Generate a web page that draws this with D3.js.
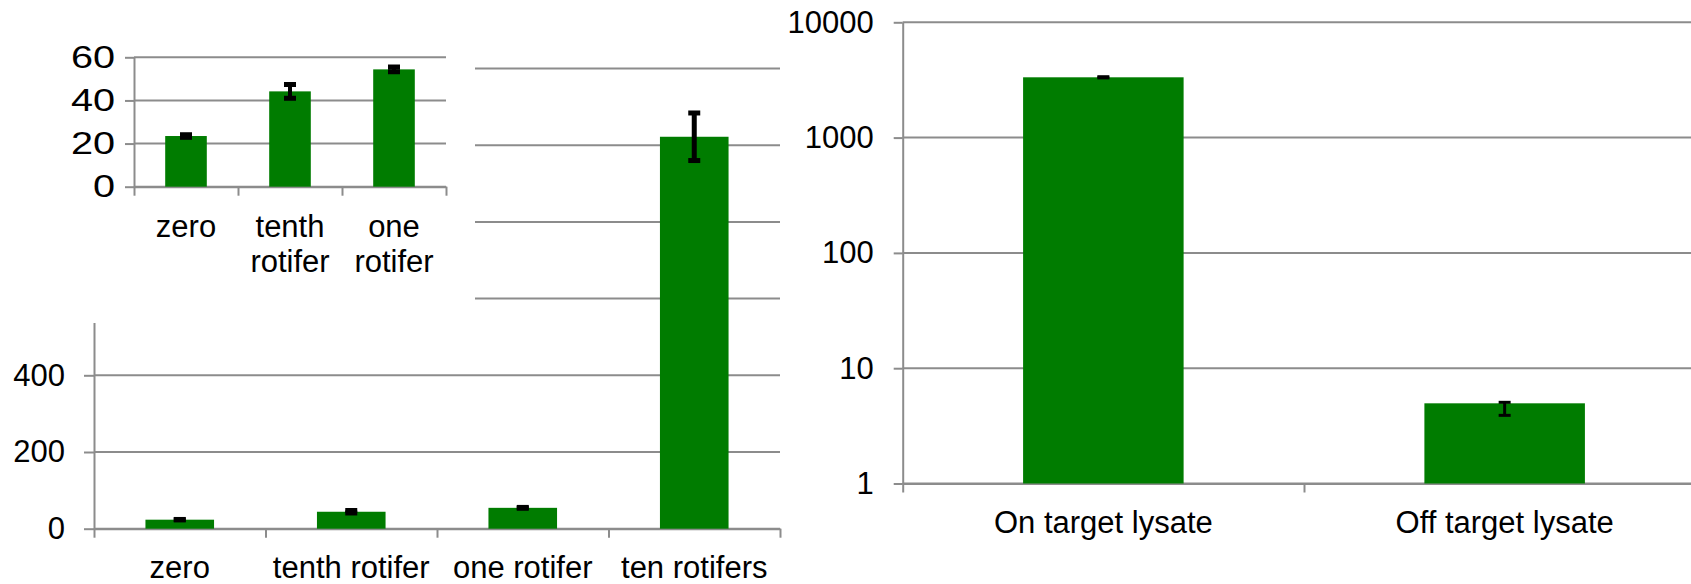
<!DOCTYPE html>
<html>
<head>
<meta charset="utf-8">
<script src="https://cdn.jsdelivr.net/npm/d3@7"></script>
<style>
  body { margin: 0; background: #fff; }
  text { font-family: "Liberation Sans", Arial, sans-serif; }
</style>
</head>
<body>
<div id="chart"></div>
<script>
// rotifer series (shared by the big chart and the zoomed inset)
const rotCats = ["zero", "tenth rotifer", "one rotifer", "ten rotifers"];
const rotMeans = [23.5, 44.2, 54.4, 1022];
const rotErr = [0.6, 3.2, 1.1, 62];
const insetCount = 3;
const bigTicks = [0, 200, 400, 600, 800, 1000, 1200];
const insetTicks = [0, 20, 40, 60];

// lysate series (log scale)
const lysCats = ["On target lysate", "Off target lysate"];
const lysMeans = [3334, 4.96];
const lysErrPlus = [40, 0.1];
const lysErrMinus = [40, 1.06];
const logTicks = [1, 10, 100, 1000, 10000];

const W = 1691, H = 584;
const green = "#007c00", gridCol = "#8c8c8c", fs = 31;
// area of the big chart hidden under the inset
const cover = {w: 475, h: 323};

const svg = d3.select("#chart").append("svg")
    .attr("width", W).attr("height", H);

function barChart(g, cfg) {
    const data = cfg.cats.map((c, i) => ({c: c, v: cfg.means[i], lo: cfg.lo[i], hi: cfg.hi[i]}));
    const x = d3.scaleBand().domain(cfg.cats).range(cfg.xr)
        .paddingInner(0.6).paddingOuter(0.3);
    const y = cfg.y;
    const x0 = cfg.xr[0], x1 = cfg.xr[1];

    // gridlines
    g.append("g").selectAll("line").data(cfg.ticks).join("line")
        .attr("x1", x0).attr("x2", x1)
        .attr("y1", d => y(d)).attr("y2", d => y(d))
        .attr("stroke", gridCol).attr("stroke-width", 2);

    // y axis
    const fmt = cfg.hideAbove ? (d => y(d) < cfg.hideAbove ? "" : d) : d3.format("d");
    const ya = g.append("g").attr("transform", `translate(${x0},0)`)
        .call(d3.axisLeft(y).tickValues(cfg.ticks).tickFormat(fmt)
            .tickSize(cfg.tick).tickPadding(cfg.pad).tickSizeOuter(0));
    ya.select(".domain").attr("stroke", gridCol).attr("stroke-width", 2);
    ya.selectAll(".tick line").attr("stroke", gridCol).attr("stroke-width", 2);
    const sx = cfg.stretch || 1;
    ya.selectAll("text").attr("font-size", fs).attr("fill", "#000")
        .attr("font-family", "Liberation Sans, Arial, sans-serif")
        .attr("x", -(cfg.tick + cfg.pad) / sx)
        .attr("transform", `scale(${sx},1)`);

    // x axis with ticks on category boundaries
    const xb = d3.scaleLinear().domain([0, cfg.cats.length]).range(cfg.xr);
    const xa = g.append("g").attr("transform", `translate(0,${y.range()[0]})`)
        .call(d3.axisBottom(xb).tickValues(d3.range(cfg.cats.length + 1))
            .tickFormat("").tickSize(9).tickSizeOuter(0));
    xa.select(".domain").attr("stroke", gridCol).attr("stroke-width", 2);
    xa.selectAll(".tick line").attr("stroke", gridCol).attr("stroke-width", 2);

    // bars
    g.append("g").selectAll("rect").data(data).join("rect")
        .attr("x", d => x(d.c)).attr("width", x.bandwidth())
        .attr("y", d => y(d.v)).attr("height", d => y(cfg.base) - y(d.v))
        .attr("fill", green);

    // error bars
    const eb = g.append("g").selectAll("g").data(data).join("g")
        .attr("transform", d => `translate(${x(d.c) + x.bandwidth() / 2},0)`);
    eb.append("line")
        .attr("y1", d => y(d.v + d.hi)).attr("y2", d => y(d.v - d.lo))
        .attr("stroke", "#000").attr("stroke-width", cfg.ew);
    eb.selectAll(".cap").data(d => [d.v + d.hi, d.v - d.lo]).join("line")
        .attr("class", "cap")
        .attr("x1", -6).attr("x2", 6)
        .attr("y1", d => y(d)).attr("y2", d => y(d))
        .attr("stroke", "#000").attr("stroke-width", cfg.cw);

    // category labels
    const lab = g.append("g").selectAll("text").data(data).join("text")
        .attr("x", d => x(d.c) + x.bandwidth() / 2)
        .attr("y", cfg.labY)
        .attr("text-anchor", "middle").attr("font-size", fs).attr("fill", "#000");
    lab.selectAll("tspan").data(d => cfg.wrap ? d.c.split(" ") : [d.c]).join("tspan")
        .attr("x", function () { return d3.select(this.parentNode).attr("x"); })
        .attr("dy", (d, i) => i === 0 ? 0 : 35)
        .text(d => d);
}

// big chart
barChart(svg.append("g"), {
    cats: rotCats, means: rotMeans, lo: rotErr, hi: rotErr,
    xr: [94, 780], y: d3.scaleLinear().domain([0, 1200]).range([528.7, 68.5]),
    ticks: bigTicks, base: 0, tick: 10, pad: 19, ew: 5, cw: 5, labY: 578, wrap: false,
    hideAbove: cover.h
});

// inset covers the upper-left corner of the big chart
svg.append("rect").attr("x", 0).attr("y", 0).attr("width", cover.w).attr("height", cover.h)
    .attr("fill", "#fff");

barChart(svg.append("g"), {
    cats: rotCats.slice(0, insetCount), means: rotMeans.slice(0, insetCount),
    lo: rotErr.slice(0, insetCount), hi: rotErr.slice(0, insetCount),
    xr: [134, 446], y: d3.scaleLinear().domain([0, 60]).range([186.7, 57.3]),
    ticks: insetTicks, base: 0, tick: 9, pad: 10, ew: 4, cw: 5, labY: 236.7, wrap: true,
    stretch: 1.28
});

// lysate chart, log scale
barChart(svg.append("g"), {
    cats: lysCats, means: lysMeans, lo: lysErrMinus, hi: lysErrPlus,
    xr: [902.7, 1705.3], y: d3.scaleLog().domain([1, 10000]).range([483.5, 22.3]),
    ticks: logTicks, base: 1, tick: 9, pad: 20, ew: 3, cw: 3, labY: 532.7, wrap: false
});
</script>
</body>
</html>
